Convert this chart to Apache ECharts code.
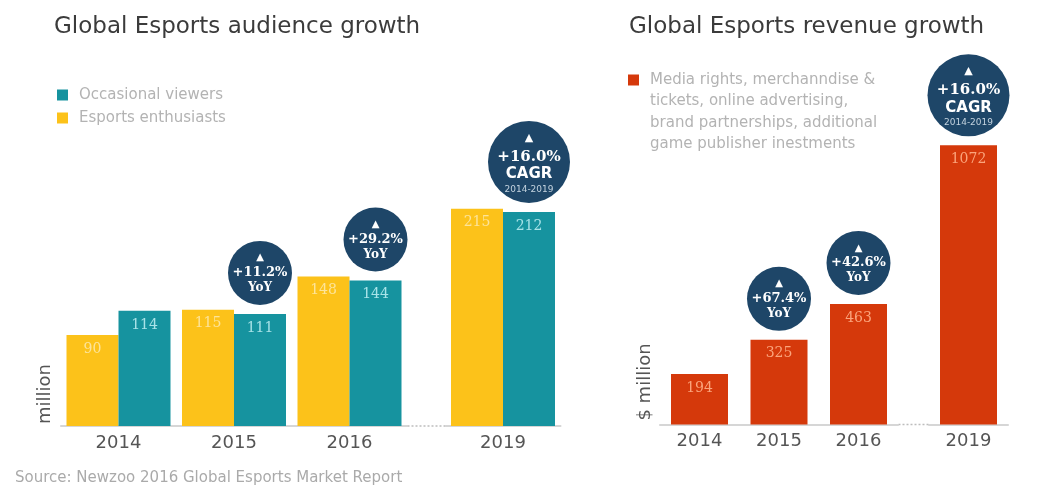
<!DOCTYPE html>
<html>
<head>
<meta charset="utf-8">
<script src="https://cdn.jsdelivr.net/npm/echarts@6/dist/echarts.min.js"></script>
<style>
  html, body { margin: 0; padding: 0; background: #ffffff; }
  #chart { width: 1061px; height: 487px; }
</style>
</head>
<body>
<div id="chart"></div>
<script>
// Years shown on both panels; 2019 is a forecast set apart from the rest
const years = ['2014', '2015', '2016', '2019'];

// Audience (millions)
const enthusiasts = [90, 115, 148, 215];
const occasional = [114, 111, 144, 212];

// Revenue ($ millions)
const revenue = [194, 325, 463, 1072];

// Growth badges
const audienceGrowth = ['', '+11.2%', '+29.2%', '+16.0%'];
const revenueGrowth = ['', '+67.4%', '+42.6%', '+16.0%'];
const growthKind = ['', 'YoY', 'YoY', 'CAGR'];
const cagrPeriod = '2014-2019';

const legendAudience = ['Occasional viewers', 'Esports enthusiasts'];
const legendRevenue = 'Media rights, merchanndise &\ntickets, online advertising,\nbrand partnerships, additional\ngame publisher inestments';

const SANS = 'DejaVu Sans';
const SERIF = 'DejaVu Serif';
const YELLOW = '#fcc21a';
const TEAL = '#16939f';
const RED = '#d5390b';
const NAVY = '#1e4668';

const chart = echarts.init(document.getElementById('chart'));

// Two grids per panel: 2014-2016 and the separate 2019 column
const grids = [
  { left: 60.75, width: 346.5, top: 173.5, bottom: 61 },
  { left: 445.25, width: 115.5, top: 173.5, bottom: 61 },
  { left: 659.75, width: 238.5, top: 138, bottom: 62.5 },
  { left: 928.75, width: 79.5, top: 138, bottom: 62.5 }
];

const yMax = [250, 250, 1100, 1100];
const ranges = [[0, 3], [3, 4], [0, 3], [3, 4]];

const xAxes = grids.map((g, gi) => ({
  type: 'category',
  gridIndex: gi,
  data: years.slice(ranges[gi][0], ranges[gi][1]),
  axisTick: { show: false },
  axisLine: { lineStyle: { color: '#c9c9c9', width: 1.5 } },
  axisLabel: { color: '#555555', fontFamily: SANS, fontSize: 18, margin: 8 }
}));

const yAxes = grids.map((g, gi) => ({
  type: 'value',
  gridIndex: gi,
  min: 0,
  max: yMax[gi],
  show: false,
  splitLine: { show: false }
}));

function barSeries(name, values, gi, color, labelColor, width) {
  return {
    type: 'bar',
    name: name,
    xAxisIndex: gi,
    yAxisIndex: gi,
    data: values.slice(ranges[gi][0], ranges[gi][1]),
    barWidth: width,
    barGap: '0%',
    itemStyle: { color: color },
    label: {
      show: true,
      position: 'insideTop',
      distance: 7,
      color: labelColor,
      fontFamily: SERIF,
      fontSize: 14
    },
    z: 2
  };
}

const bubbleRich = {
  tri: { fontFamily: SANS, fontSize: 10, color: '#ffffff', lineHeight: 15, align: 'center' },
  pct: { fontFamily: SERIF, fontWeight: 'bold', fontSize: 13, color: '#ffffff', lineHeight: 15, align: 'center' },
  yoy: { fontFamily: SERIF, fontWeight: 'bold', fontSize: 12, color: '#ffffff', lineHeight: 15, align: 'center' },
  triC: { fontFamily: SANS, fontSize: 11, color: '#ffffff', lineHeight: 20, align: 'center' },
  pctC: { fontFamily: SERIF, fontWeight: 'bold', fontSize: 15, color: '#ffffff', lineHeight: 18, align: 'center' },
  cagr: { fontFamily: SANS, fontWeight: 'bold', fontSize: 15, color: '#ffffff', lineHeight: 17, align: 'center' },
  period: { fontFamily: SANS, fontSize: 9, color: '#c3d2de', lineHeight: 13, align: 'center' }
};

// Growth badges sit just above the bar they describe
function bubbleSeries(anchor, growth, gi, dx) {
  const data = [];
  for (let i = ranges[gi][0]; i < ranges[gi][1]; i++) {
    if (!growth[i]) continue;
    const isCagr = growthKind[i] === 'CAGR';
    const size = isCagr ? 82 : 64;
    data.push({
      value: [i - ranges[gi][0], anchor[i]],
      growth: growth[i],
      kind: growthKind[i],
      symbolSize: size,
      symbolOffset: [dx, -(size / 2 + 9)]
    });
  }
  return {
    type: 'scatter',
    xAxisIndex: gi,
    yAxisIndex: gi,
    data: data,
    symbol: 'circle',
    itemStyle: { color: NAVY, opacity: 1 },
    label: {
      show: true,
      position: 'inside',
      formatter: (p) => p.data.kind === 'CAGR'
        ? '{triC|▲}\n{pctC|' + p.data.growth + '}\n{cagr|CAGR}\n{period|' + cagrPeriod + '}'
        : '{tri|▲}\n{pct|' + p.data.growth + '}\n{yoy|' + p.data.kind + '}',
      rich: bubbleRich
    },
    emphasis: { disabled: true },
    z: 5
  };
}

const series = [];
[0, 1].forEach((gi) => {
  series.push(barSeries(legendAudience[1], enthusiasts, gi, YELLOW, '#fde49a', 52));
  series.push(barSeries(legendAudience[0], occasional, gi, TEAL, '#a9e3e8', 52));
  series.push(bubbleSeries(occasional, audienceGrowth, gi, 26));
});
[2, 3].forEach((gi) => {
  series.push(barSeries(legendRevenue, revenue, gi, RED, '#fba47c', 57));
  series.push(bubbleSeries(revenue, revenueGrowth, gi, 0));
});

const option = {
  animation: false,
  backgroundColor: '#ffffff',
  title: [
    { text: 'Global Esports audience growth', left: 49, top: 11,
      textStyle: { fontFamily: SANS, fontSize: 23, fontWeight: 'normal', color: '#3b3b3b' } },
    { text: 'Global Esports revenue growth', left: 624, top: 11,
      textStyle: { fontFamily: SANS, fontSize: 23, fontWeight: 'normal', color: '#3b3b3b' } },
    { text: 'Source: Newzoo 2016 Global Esports Market Report', left: 10, top: 466,
      textStyle: { fontFamily: SANS, fontSize: 15, fontWeight: 'normal', color: '#aaaaaa' } }
  ],
  legend: [
    {
      data: legendAudience,
      orient: 'vertical',
      left: 57,
      top: 87.5,
      padding: 0,
      itemWidth: 11,
      itemHeight: 11,
      itemGap: 8,
      icon: 'rect',
      selectedMode: false,
      textStyle: { fontFamily: SANS, fontSize: 15, color: '#b3b3b3', lineHeight: 15, padding: [0, 0, 0, 6] }
    },
    {
      data: [legendRevenue],
      orient: 'vertical',
      left: 628,
      top: 4.75,
      padding: 0,
      itemWidth: 11,
      itemHeight: 11,
      icon: 'rect',
      selectedMode: false,
      // three leading blank lines keep the swatch level with the first line
      formatter: (name) => '\n\n\n' + name,
      textStyle: { fontFamily: SANS, fontSize: 15, color: '#b3b3b3', lineHeight: 21.5, padding: [0, 0, 0, 6] }
    }
  ],
  grid: grids,
  xAxis: xAxes,
  yAxis: yAxes,
  series: series,
  graphic: [
    // dotted breaks on the baseline before the 2019 column
    { type: 'line', shape: { x1: 407.5, y1: 426, x2: 445, y2: 426 },
      style: { stroke: '#bdbdbd', lineWidth: 1.5, lineDash: [2, 2] }, silent: true },
    { type: 'line', shape: { x1: 898.5, y1: 424.5, x2: 928.5, y2: 424.5 },
      style: { stroke: '#bdbdbd', lineWidth: 1.5, lineDash: [2, 2] }, silent: true },
    // axis units
    { type: 'text', x: 45, y: 394, rotation: Math.PI / 2,
      style: { text: 'million', fontFamily: SANS, fontSize: 18, fill: '#555555', align: 'center', verticalAlign: 'middle' } },
    { type: 'text', x: 645, y: 382, rotation: Math.PI / 2,
      style: { text: '$ million', fontFamily: SANS, fontSize: 18, fill: '#555555', align: 'center', verticalAlign: 'middle' } }
  ]
};

chart.setOption(option);
</script>
</body>
</html>
